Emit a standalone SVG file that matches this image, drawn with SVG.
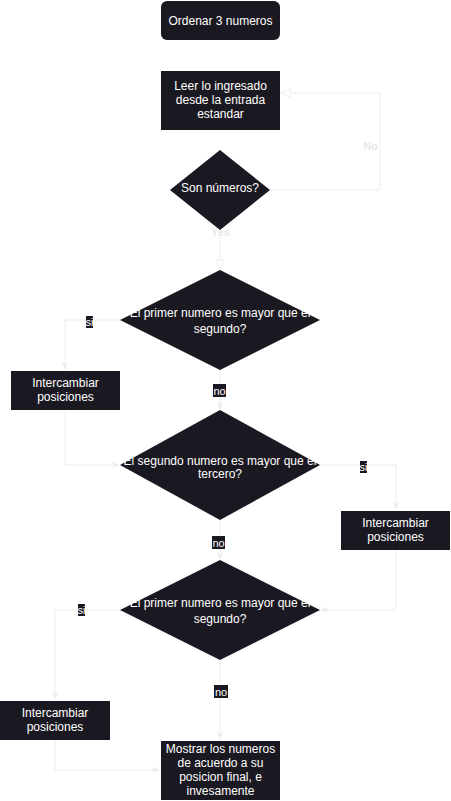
<svg xmlns="http://www.w3.org/2000/svg" width="451" height="801" viewBox="0 0 451 801">
  <defs>
    <style>
      .node { fill: #1a1820; }
      .t { fill: #ffffff; font-family: "Liberation Sans", Arial, sans-serif; font-size: 12px; text-anchor: middle; }
      .lbl { fill: #ffffff; font-family: "Liberation Sans", Arial, sans-serif; font-size: 11px; text-anchor: middle; }
      .lblbg { fill: #1a1820; }
      .faint { fill: #e8e8e8; font-family: "Liberation Sans", Arial, sans-serif; font-size: 11px; font-weight: bold; text-anchor: middle; }
      .edge { fill: none; stroke: #ececec; stroke-width: 1; }
      .arrow { marker-end: url(#classic); }
      .open { marker-end: url(#block); }
    </style>
    <marker id="classic" viewBox="0 0 10 10" refX="9" refY="5" markerWidth="8" markerHeight="8" markerUnits="userSpaceOnUse" orient="auto">
      <path d="M0,1 L10,5 L0,9 L3,5 z" fill="#ececec"/>
    </marker>
    <marker id="block" viewBox="0 0 12 12" refX="11" refY="6" markerWidth="11" markerHeight="11" markerUnits="userSpaceOnUse" orient="auto">
      <path d="M1,1.5 L11,6 L1,10.5 z" fill="#ffffff" stroke="#ececec" stroke-width="1"/>
    </marker>
  </defs>

  <rect width="451" height="801" fill="#ffffff"/>

  <!-- connectors -->
  <g id="connectors">
    <path class="edge open" d="M270,190 H380 V93 H281"/>
    <path class="edge open" d="M220,230 V269"/>
    <path class="edge arrow" d="M120,320 H65 V369"/>
    <path class="edge arrow" d="M65,410 V465 H119"/>
    <path class="edge arrow" d="M220,370 V409"/>
    <path class="edge arrow" d="M320,465 H396 V509"/>
    <path class="edge arrow" d="M396,550 V610 H321"/>
    <path class="edge arrow" d="M220,520 V559"/>
    <path class="edge arrow" d="M120,610 H55 V699"/>
    <path class="edge arrow" d="M55,740 V770 H159"/>
    <path class="edge arrow" d="M220,660 V739"/>
  </g>

  <!-- nodes -->
  <g id="start">
    <rect class="node" x="161" y="1" width="119" height="39" rx="6"/>
    <text class="t" x="220.5" y="24.5">Ordenar 3 numeros</text>
  </g>

  <g id="leer">
    <rect class="node" x="161" y="71" width="119" height="59"/>
    <text class="t" x="220.5" y="90">Leer lo ingresado</text>
    <text class="t" x="220.5" y="104">desde la entrada</text>
    <text class="t" x="220.5" y="118">estandar</text>
  </g>

  <g id="son-numeros">
    <polygon class="node" points="220,150 270,190 220,230 170,190"/>
    <text class="t" x="220" y="192">Son números?</text>
  </g>

  <g id="cmp-1-2">
    <polygon class="node" points="220,270 320,320 220,370 120,320"/>
    <text class="t" x="220" y="317">El primer numero es mayor que el</text>
    <text class="t" x="220" y="333">segundo?</text>
  </g>

  <g id="swap-1">
    <rect class="node" x="11" y="371" width="109" height="39"/>
    <text class="t" x="65.5" y="387">Intercambiar</text>
    <text class="t" x="65.5" y="401">posiciones</text>
  </g>

  <g id="cmp-2-3">
    <polygon class="node" points="220,410 320,465 220,520 120,465"/>
    <text class="t" x="220" y="465">El segundo numero es mayor que el</text>
    <text class="t" x="220" y="478">tercero?</text>
  </g>

  <g id="swap-2">
    <rect class="node" x="341" y="511" width="109" height="39"/>
    <text class="t" x="395.5" y="527">Intercambiar</text>
    <text class="t" x="395.5" y="541">posiciones</text>
  </g>

  <g id="cmp-1-2-again">
    <polygon class="node" points="220,560 320,610 220,660 120,610"/>
    <text class="t" x="220" y="607">El primer numero es mayor que el</text>
    <text class="t" x="220" y="623">segundo?</text>
  </g>

  <g id="swap-3">
    <rect class="node" x="0" y="701" width="110" height="39"/>
    <text class="t" x="55" y="717">Intercambiar</text>
    <text class="t" x="55" y="731">posiciones</text>
  </g>

  <g id="mostrar">
    <rect class="node" x="161" y="741" width="119" height="59"/>
    <text class="t" x="220.5" y="753">Mostrar los numeros</text>
    <text class="t" x="220.5" y="767">de acuerdo a su</text>
    <text class="t" x="220.5" y="781">posicion final, e</text>
    <text class="t" x="220.5" y="795">invesamente</text>
  </g>

  <!-- edge labels -->
  <g id="labels">
    <text class="faint" x="370.5" y="150">No</text>
    <text class="faint" x="220.5" y="236">Yes</text>

    <rect class="lblbg" x="86" y="316" width="7" height="12"/>
    <text class="lbl" x="89.5" y="325.5">si</text>
    <rect class="lblbg" x="213" y="384" width="13" height="13"/>
    <text class="lbl" x="219.5" y="394.5">no</text>

    <rect class="lblbg" x="360" y="461" width="7" height="12"/>
    <text class="lbl" x="363.5" y="470.5">si</text>
    <rect class="lblbg" x="212" y="536" width="13" height="13"/>
    <text class="lbl" x="218.5" y="546.5">no</text>

    <rect class="lblbg" x="78" y="604" width="7" height="12"/>
    <text class="lbl" x="81.5" y="613.5">si</text>
    <rect class="lblbg" x="214" y="685" width="14" height="13"/>
    <text class="lbl" x="221" y="695.5">no</text>
  </g>
</svg>
